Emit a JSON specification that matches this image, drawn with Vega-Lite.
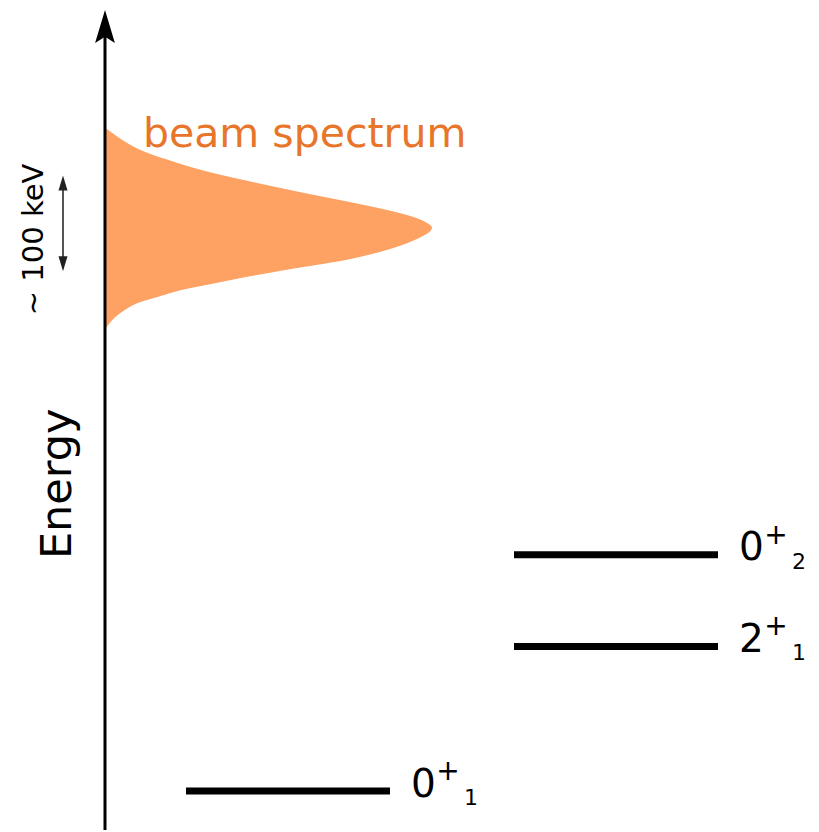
{
  "$schema": "https://vega.github.io/schema/vega-lite/v6.json",
  "width": 819,
  "height": 832,
  "autosize": {"type": "fit", "contains": "padding"},
  "padding": 0,
  "background": "white",
  "config": {"view": {"stroke": null}, "text": {"font": "DejaVu Sans"}},
  "data": {"values": [{}]},
  "datasets": {
    "spectrum": [
      {"E": 463, "I": 0},
      {"E": 467, "I": 3},
      {"E": 473, "I": 8},
      {"E": 481, "I": 18},
      {"E": 490, "I": 35},
      {"E": 496, "I": 55},
      {"E": 503, "I": 80},
      {"E": 508, "I": 105},
      {"E": 516, "I": 145},
      {"E": 523, "I": 185},
      {"E": 530, "I": 228},
      {"E": 538, "I": 265},
      {"E": 546, "I": 293},
      {"E": 555, "I": 315},
      {"E": 561, "I": 325},
      {"E": 565, "I": 327},
      {"E": 569, "I": 323},
      {"E": 575, "I": 310},
      {"E": 583, "I": 280},
      {"E": 590, "I": 247},
      {"E": 600, "I": 197},
      {"E": 610, "I": 150},
      {"E": 621, "I": 102},
      {"E": 633, "I": 62},
      {"E": 643, "I": 35},
      {"E": 653, "I": 17},
      {"E": 660, "I": 7},
      {"E": 665, "I": 0}
    ],
    "levels": [
      {"spin": "0", "parity": "+", "index": "1", "E": 0, "from": 81, "to": 285},
      {"spin": "2", "parity": "+", "index": "1", "E": 145, "from": 409, "to": 613},
      {"spin": "0", "parity": "+", "index": "2", "E": 237, "from": 409, "to": 613}
    ]
  },
  "layer": [
    {
      "description": "beam energy distribution drawn against the energy axis",
      "data": {"name": "spectrum"},
      "mark": {"type": "area", "orient": "horizontal", "interpolate": "monotone", "color": "#FDA263", "opacity": 1},
      "encoding": {
        "y": {"field": "E", "type": "quantitative", "scale": {"domain": [-39, 793], "nice": false, "zero": false}, "axis": null},
        "x": {"field": "I", "type": "quantitative", "scale": {"domain": [-105, 714], "nice": false, "zero": false}, "axis": null},
        "x2": {"datum": 0}
      }
    },
    {
      "description": "energy axis shaft",
      "mark": {"type": "rule", "color": "#000000", "strokeWidth": 3},
      "encoding": {
        "x": {"datum": 0, "type": "quantitative", "scale": {"domain": [-105, 714], "nice": false, "zero": false}},
        "y": {"datum": -39, "type": "quantitative", "scale": {"domain": [-39, 793], "nice": false, "zero": false}},
        "y2": {"datum": 760}
      }
    },
    {
      "description": "energy axis arrowhead",
      "mark": {"type": "point", "filled": true, "color": "#000000", "opacity": 1, "shape": "M0,-1L0.6,1L0,0.62L-0.6,1Z", "size": 1089},
      "encoding": {
        "x": {"datum": 0, "type": "quantitative", "scale": {"domain": [-105, 714], "nice": false, "zero": false}},
        "y": {"datum": 766.5, "type": "quantitative", "scale": {"domain": [-39, 793], "nice": false, "zero": false}}
      }
    },
    {
      "description": "width marker shaft",
      "mark": {"type": "rule", "color": "#555555", "strokeWidth": 2},
      "encoding": {
        "x": {"datum": -42, "type": "quantitative", "scale": {"domain": [-105, 714], "nice": false, "zero": false}},
        "y": {"datum": 527, "type": "quantitative", "scale": {"domain": [-39, 793], "nice": false, "zero": false}},
        "y2": {"datum": 612}
      }
    },
    {
      "description": "width marker upper head",
      "mark": {"type": "point", "filled": true, "color": "#222222", "opacity": 1, "shape": "M0,-1L0.6,1L-0.6,1Z", "size": 225},
      "encoding": {
        "x": {"datum": -42, "type": "quantitative", "scale": {"domain": [-105, 714], "nice": false, "zero": false}},
        "y": {"datum": 609.5, "type": "quantitative", "scale": {"domain": [-39, 793], "nice": false, "zero": false}}
      }
    },
    {
      "description": "width marker lower head",
      "mark": {"type": "point", "filled": true, "color": "#222222", "opacity": 1, "shape": "M0,1L0.6,-1L-0.6,-1Z", "size": 225},
      "encoding": {
        "x": {"datum": -42, "type": "quantitative", "scale": {"domain": [-105, 714], "nice": false, "zero": false}},
        "y": {"datum": 528.5, "type": "quantitative", "scale": {"domain": [-39, 793], "nice": false, "zero": false}}
      }
    },
    {
      "description": "nuclear levels",
      "data": {"name": "levels"},
      "mark": {"type": "rule", "color": "#000000", "strokeWidth": 7},
      "encoding": {
        "x": {"field": "from", "type": "quantitative", "scale": {"domain": [-105, 714], "nice": false, "zero": false}},
        "x2": {"field": "to"},
        "y": {"field": "E", "type": "quantitative", "scale": {"domain": [-39, 793], "nice": false, "zero": false}}
      }
    },
    {
      "description": "level spin",
      "data": {"name": "levels"},
      "mark": {"type": "text", "align": "left", "baseline": "alphabetic", "dx": 21, "dy": 5.5, "fontSize": 39, "color": "#000000"},
      "encoding": {
        "x": {"field": "to", "type": "quantitative", "scale": {"domain": [-105, 714], "nice": false, "zero": false}},
        "y": {"field": "E", "type": "quantitative", "scale": {"domain": [-39, 793], "nice": false, "zero": false}},
        "text": {"field": "spin"}
      }
    },
    {
      "description": "level parity superscript",
      "data": {"name": "levels"},
      "mark": {"type": "text", "align": "center", "baseline": "middle", "dx": 58, "dy": -19, "fontSize": 28, "color": "#000000"},
      "encoding": {
        "x": {"field": "to", "type": "quantitative", "scale": {"domain": [-105, 714], "nice": false, "zero": false}},
        "y": {"field": "E", "type": "quantitative", "scale": {"domain": [-39, 793], "nice": false, "zero": false}},
        "text": {"field": "parity"}
      }
    },
    {
      "description": "level index subscript",
      "data": {"name": "levels"},
      "mark": {"type": "text", "align": "left", "baseline": "alphabetic", "dx": 74, "dy": 14, "fontSize": 22, "color": "#000000"},
      "encoding": {
        "x": {"field": "to", "type": "quantitative", "scale": {"domain": [-105, 714], "nice": false, "zero": false}},
        "y": {"field": "E", "type": "quantitative", "scale": {"domain": [-39, 793], "nice": false, "zero": false}},
        "text": {"field": "index"}
      }
    },
    {
      "description": "axis title",
      "mark": {"type": "text", "angle": 270, "align": "center", "baseline": "alphabetic", "fontSize": 43, "color": "#000000", "text": "Energy"},
      "encoding": {
        "x": {"datum": -34, "type": "quantitative", "scale": {"domain": [-105, 714], "nice": false, "zero": false}},
        "y": {"datum": 308, "type": "quantitative", "scale": {"domain": [-39, 793], "nice": false, "zero": false}}
      }
    },
    {
      "description": "spectrum width note",
      "mark": {"type": "text", "angle": 270, "align": "center", "baseline": "alphabetic", "fontSize": 29, "color": "#000000", "text": "~ 100 keV"},
      "encoding": {
        "x": {"datum": -62, "type": "quantitative", "scale": {"domain": [-105, 714], "nice": false, "zero": false}},
        "y": {"datum": 553, "type": "quantitative", "scale": {"domain": [-39, 793], "nice": false, "zero": false}}
      }
    },
    {
      "description": "spectrum caption",
      "mark": {"type": "text", "align": "left", "baseline": "alphabetic", "fontSize": 41, "color": "#E8762A", "text": "beam spectrum"},
      "encoding": {
        "x": {"datum": 38, "type": "quantitative", "scale": {"domain": [-105, 714], "nice": false, "zero": false}},
        "y": {"datum": 646, "type": "quantitative", "scale": {"domain": [-39, 793], "nice": false, "zero": false}}
      }
    }
  ]
}
